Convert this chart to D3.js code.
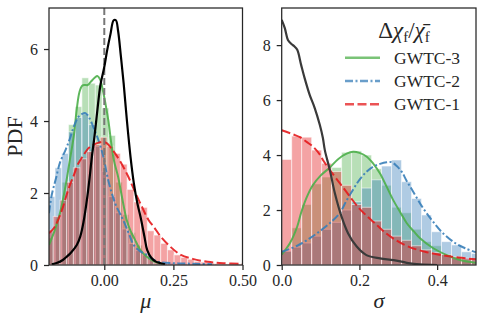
<!DOCTYPE html>
<meta charset="utf-8">
<style>
body { margin: 0; background: #fff; }
.tick line { stroke: #262626; stroke-width: 1.25px; }
</style>
<svg width="484" height="321"></svg>
<script src="https://d3js.org/d3.v7.min.js"></script>
<script>

// ---------- left panel: mu ----------
var muBinWidth = 0.0243;
var muBinStart3 = -0.2025, muBinStart2 = -0.2025, muBinStart1 = -0.209;
var muHist3 = [0.75, 1.3, 2.3, 3.9, 4.4, 5.2, 5.05, 5.0, 4.36, 3.6, 2.3, 1.4, 0.9, 0.55, 0.3, 0.14, 0.06];
var muHist2 = [1.9, 2.7, 3.1, 3.7, 4.1, 4.2, 3.9, 3.3, 2.6, 1.9, 1.45, 1.0, 0.6, 0.4, 0.28, 0.15, 0.08, 0.05, 0.05, 0.04, 0.04, 0.03, 0.03, 0.02];
var muHist1 = [0.97, 1.35, 1.8, 2.3, 2.7, 2.95, 3.15, 3.35, 3.55, 3.3, 3.1, 2.8, 2.1, 1.75, 1.6, 0.95, 0.83, 0.6, 0.42, 0.28, 0.21, 0.16, 0.1, 0.08, 0.05, 0.04, 0.03, 0.03, 0.02, 0.02];

var muKde3 = [[-0.2,0.56],[-0.18,0.95],[-0.16,1.45],[-0.14,2.2],[-0.125,2.9],[-0.11,3.6],[-0.1,4.3],[-0.09,4.8],[-0.08,4.98],[-0.07,5.0],[-0.06,5.0],[-0.05,5.08],[-0.035,5.2],[-0.025,5.25],[-0.015,5.15],[-0.005,4.85],[0.005,4.45],[0.015,4.0],[0.025,3.4],[0.035,2.9],[0.05,2.45],[0.06,2.05],[0.07,1.65],[0.08,1.28],[0.095,0.95],[0.11,0.72],[0.13,0.42],[0.155,0.22],[0.18,0.1],[0.21,0.03]];
var muKde2 = [[-0.2,1.44],[-0.19,1.95],[-0.175,2.4],[-0.16,2.85],[-0.14,3.2],[-0.125,3.5],[-0.11,3.85],[-0.095,4.1],[-0.08,4.2],[-0.068,4.22],[-0.055,4.1],[-0.04,3.84],[-0.025,3.55],[-0.01,3.2],[0.0,2.9],[0.01,2.5],[0.025,2.05],[0.04,1.7],[0.055,1.45],[0.07,1.22],[0.09,0.85],[0.107,0.55],[0.13,0.38],[0.155,0.28],[0.175,0.16],[0.2,0.08],[0.25,0.05],[0.3,0.04],[0.35,0.03],[0.39,0.02]];
var muKde1 = [[-0.2,0.88],[-0.18,1.05],[-0.167,1.25],[-0.15,1.6],[-0.131,2.08],[-0.11,2.5],[-0.094,2.82],[-0.075,3.05],[-0.058,3.24],[-0.04,3.34],[-0.02,3.4],[-0.005,3.42],[0.01,3.38],[0.025,3.25],[0.039,3.1],[0.06,2.85],[0.087,2.45],[0.11,2.05],[0.136,1.62],[0.16,1.25],[0.18,1.05],[0.204,0.79],[0.24,0.5],[0.277,0.28],[0.32,0.17],[0.374,0.09],[0.43,0.05],[0.5,0.03]];
var muCombined = [[-0.19,0.02],[-0.17,0.06],[-0.15,0.14],[-0.136,0.23],[-0.12,0.35],[-0.1,0.55],[-0.087,0.79],[-0.075,1.2],[-0.063,1.8],[-0.052,2.5],[-0.045,3.0],[-0.035,3.6],[-0.025,4.3],[-0.014,5.0],[0.0,5.5],[0.01,5.95],[0.022,6.4],[0.034,6.8],[0.042,6.8],[0.05,6.5],[0.06,5.8],[0.07,5.05],[0.082,4.0],[0.095,3.0],[0.107,2.27],[0.12,1.7],[0.131,1.34],[0.145,0.8],[0.155,0.42],[0.17,0.2],[0.185,0.1],[0.204,0.05],[0.22,0.02]];

// ---------- right panel: sigma ----------
var sigmaBinWidth = 0.0257, sigmaBinStart = 0;
var sigmaHist3 = [0.5, 1.35, 2.2, 2.95, 3.2, 3.55, 4.1, 4.15, 4.0, 3.5, 2.9, 2.1, 1.9, 1.3, 0.85, 0.7, 0.4, 0.25, 0.15, 0.1];
var sigmaHist2 = [0.5, 0.65, 0.8, 1.05, 1.3, 1.55, 2.0, 2.3, 2.8, 3.1, 3.6, 3.82, 3.03, 2.42, 1.82, 1.21, 0.85, 0.73, 0.48, 0.42];
var sigmaHist1 = [3.84, 4.69, 4.65, 4.18, 3.7, 3.4, 2.9, 2.2, 2.1, 1.6, 1.3, 1.05, 0.9, 0.7, 0.55, 0.45, 0.38, 0.3, 0.25, 0.2];

var sigmaKde3 = [[0,0.38],[0.021,0.79],[0.04,1.4],[0.05,1.9],[0.064,2.45],[0.08,2.9],[0.1,3.25],[0.124,3.55],[0.145,3.85],[0.167,4.05],[0.184,4.12],[0.2,4.08],[0.219,3.94],[0.236,3.68],[0.253,3.33],[0.27,2.85],[0.287,2.36],[0.305,1.92],[0.322,1.52],[0.34,1.22],[0.356,0.97],[0.39,0.61],[0.425,0.36],[0.459,0.18],[0.5,0.08]];
var sigmaKde2 = [[0,0.48],[0.04,0.7],[0.07,0.95],[0.1,1.25],[0.13,1.6],[0.15,1.9],[0.167,2.35],[0.184,2.75],[0.2,3.1],[0.219,3.4],[0.236,3.58],[0.253,3.68],[0.27,3.74],[0.283,3.74],[0.296,3.6],[0.309,3.39],[0.322,3.05],[0.335,2.75],[0.36,2.15],[0.386,1.64],[0.412,1.2],[0.446,0.8],[0.472,0.61],[0.5,0.46]];
var sigmaKde1 = [[0,4.9],[0.03,4.75],[0.047,4.65],[0.064,4.48],[0.081,4.3],[0.099,4.0],[0.107,3.8],[0.124,3.45],[0.15,2.97],[0.176,2.48],[0.2,2.05],[0.227,1.68],[0.249,1.4],[0.266,1.18],[0.292,0.92],[0.326,0.67],[0.369,0.48],[0.412,0.36],[0.455,0.27],[0.5,0.21]];
var sigmaCombined = [[0,8.92],[0.008,8.62],[0.016,8.19],[0.025,8.04],[0.033,7.95],[0.04,7.83],[0.05,7.28],[0.059,6.8],[0.072,6.19],[0.085,5.71],[0.098,5.1],[0.106,4.62],[0.111,4.18],[0.124,3.45],[0.137,2.6],[0.154,1.76],[0.171,1.15],[0.193,0.67],[0.218,0.36],[0.253,0.24],[0.288,0.18],[0.322,0.08],[0.356,0.02],[0.4,0.0]];

var catalogs = ["GWTC-3", "GWTC-2", "GWTC-1"];
var colors = {"GWTC-3": "#4daf4a", "GWTC-2": "#377eb8", "GWTC-1": "#e41a1c"};
var dashes = {"GWTC-3": null, "GWTC-2": "8,2.5,2,2.5", "GWTC-1": "9,3.5"};

var serif = "'Liberation Serif', 'Times New Roman', serif";
var svg = d3.select("svg");

function drawPanel(p) {
  var x = d3.scaleLinear().domain(p.xDomain).range([p.left, p.right]);
  var y = d3.scaleLinear().domain(p.yDomain).range([p.bottom, p.top]);
  var g = svg.append("g");

  g.append("clipPath").attr("id", p.id)
    .append("rect")
      .attr("x", p.left).attr("y", p.top)
      .attr("width", p.right - p.left).attr("height", p.bottom - p.top);

  var body = g.append("g").attr("clip-path", "url(#" + p.id + ")");

  // histograms
  p.hists.forEach(function(h) {
    body.append("g").selectAll("rect")
      .data(h.values)
      .enter().append("rect")
        .attr("x", function(d, i) { return x(h.start + i * h.width); })
        .attr("width", function(d, i) { return x(h.start + (i + 1) * h.width) - x(h.start + i * h.width); })
        .attr("y", function(d) { return y(d); })
        .attr("height", function(d) { return y(0) - y(d); })
        .attr("fill", colors[h.name])
        .attr("fill-opacity", 0.4)
        .attr("stroke", "#fff")
        .attr("stroke-opacity", 0.55)
        .attr("stroke-width", 1);
  });

  var line = d3.line()
      .x(function(d) { return x(d[0]); })
      .y(function(d) { return y(d[1]); })
      .curve(d3.curveCatmullRom.alpha(0.5));

  p.kdes.forEach(function(k) {
    body.append("path")
      .datum(k.pts)
      .attr("d", line)
      .attr("fill", "none")
      .attr("stroke", colors[k.name])
      .attr("stroke-opacity", 0.9)
      .attr("stroke-width", 2)
      .attr("stroke-dasharray", dashes[k.name]);
  });

  if (p.vline !== undefined) {
    body.append("line")
      .attr("x1", x(p.vline)).attr("x2", x(p.vline))
      .attr("y1", p.top).attr("y2", p.bottom)
      .attr("stroke", "#777")
      .attr("stroke-width", 2)
      .attr("stroke-dasharray", "7,3");
  }

  body.append("path")
    .datum(p.combined)
    .attr("d", line)
    .attr("fill", "none")
    .attr("stroke", p.combinedColor)
    .attr("stroke-width", 2.2);

  // axes
  var xAxis = d3.axisBottom(x).tickValues(p.xTicks).tickFormat(d3.format(p.xFormat)).tickSize(5).tickPadding(5);
  var yAxis = d3.axisLeft(y).tickValues(p.yTicks).tickFormat(d3.format("d")).tickSize(5).tickPadding(6);
  [g.append("g").attr("transform", "translate(0," + p.bottom + ")").call(xAxis),
   g.append("g").attr("transform", "translate(" + p.left + ",0)").call(yAxis)]
    .forEach(function(a) {
      a.select(".domain").remove();
      a.attr("font-family", serif).attr("font-size", 16);
      a.selectAll(".tick text").attr("fill", "#262626");
    });

  g.append("rect")
    .attr("x", p.left).attr("y", p.top)
    .attr("width", p.right - p.left).attr("height", p.bottom - p.top)
    .attr("fill", "none")
    .attr("stroke", "#262626")
    .attr("stroke-width", 1.25);

  g.append("text")
    .attr("x", (p.left + p.right) / 2)
    .attr("y", 308)
    .attr("text-anchor", "middle")
    .attr("font-family", serif)
    .attr("font-size", 22)
    .attr("font-style", "italic")
    .attr("fill", "#262626")
    .text(p.xLabel);

  if (p.yLabel) {
    g.append("text")
      .attr("transform", "translate(22," + (p.top + p.bottom) / 2 + ") rotate(-90)")
      .attr("text-anchor", "middle")
      .attr("font-family", serif)
      .attr("font-size", 22)
      .attr("fill", "#262626")
      .text(p.yLabel);
  }
}

drawPanel({
  id: "clipMu", left: 49, right: 242.5, top: 8, bottom: 265,
  xDomain: [-0.2, 0.5], yDomain: [0, 7.14],
  xTicks: [0, 0.25, 0.5], xFormat: ".2f", yTicks: [0, 2, 4, 6],
  hists: [
    {name: "GWTC-3", start: muBinStart3, width: muBinWidth, values: muHist3},
    {name: "GWTC-2", start: muBinStart2, width: muBinWidth, values: muHist2},
    {name: "GWTC-1", start: muBinStart1, width: muBinWidth, values: muHist1}
  ],
  kdes: [
    {name: "GWTC-3", pts: muKde3},
    {name: "GWTC-2", pts: muKde2},
    {name: "GWTC-1", pts: muKde1}
  ],
  vline: 0,
  combined: muCombined, combinedColor: "#000",
  xLabel: "\u03bc", yLabel: "PDF"
});

drawPanel({
  id: "clipSigma", left: 281.7, right: 476, top: 8, bottom: 265,
  xDomain: [0, 0.5], yDomain: [0, 9.35],
  xTicks: [0, 0.2, 0.4], xFormat: ".1f", yTicks: [0, 2, 4, 6, 8],
  hists: [
    {name: "GWTC-3", start: sigmaBinStart, width: sigmaBinWidth, values: sigmaHist3},
    {name: "GWTC-2", start: sigmaBinStart, width: sigmaBinWidth, values: sigmaHist2},
    {name: "GWTC-1", start: sigmaBinStart, width: sigmaBinWidth, values: sigmaHist1}
  ],
  kdes: [
    {name: "GWTC-3", pts: sigmaKde3},
    {name: "GWTC-2", pts: sigmaKde2},
    {name: "GWTC-1", pts: sigmaKde1}
  ],
  combined: sigmaCombined, combinedColor: "#3a3a3a",
  xLabel: "\u03c3"
});

// legend
var legend = svg.append("g")
    .attr("font-family", serif)
    .attr("fill", "#262626");
var title = legend.append("text")
    .attr("x", 404).attr("y", 38)
    .attr("text-anchor", "middle")
    .attr("font-size", 23);
title.append("tspan").text("\u0394");
title.append("tspan").attr("font-style", "italic").text("\u03c7");
title.append("tspan").attr("dy", 4).attr("font-size", 15).text("f");
title.append("tspan").attr("dy", -4).text("/");
title.append("tspan").attr("font-style", "italic").text("\u03c7\u0304");
title.append("tspan").attr("dy", 4).attr("font-size", 15).text("f");

var item = legend.selectAll("g.item")
  .data(catalogs)
  .enter().append("g")
    .attr("class", "item")
    .attr("transform", function(d, i) { return "translate(0," + (57.7 + i * 23.3) + ")"; });
item.append("line")
  .attr("x1", 345).attr("x2", 380)
  .attr("stroke", function(d) { return colors[d]; })
  .attr("stroke-opacity", 0.75)
  .attr("stroke-width", 2.5)
  .attr("stroke-dasharray", function(d) { return dashes[d]; });
item.append("text")
  .attr("x", 394).attr("y", 6)
  .attr("font-size", 17.5)
  .text(function(d) { return d; });

</script>
